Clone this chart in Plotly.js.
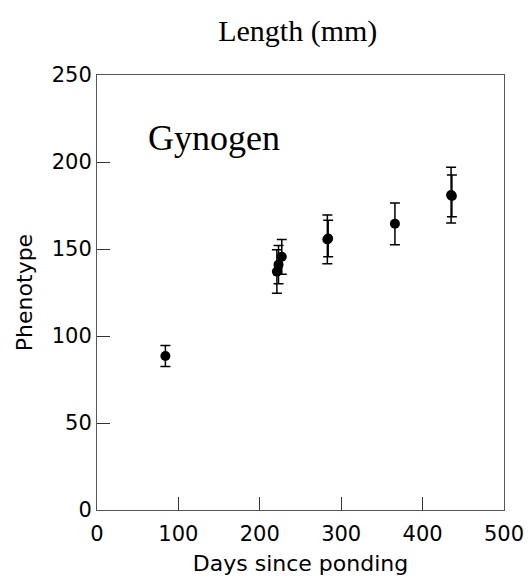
<!DOCTYPE html>
<html>
<head>
<meta charset="utf-8">
<script src="https://cdn.plot.ly/plotly-3.0.1.min.js"></script>
<style>html,body{margin:0;padding:0;background:#fff;}</style>
</head>
<body>
<div id="chart" style="width:528px;height:579px;"></div>
<script>
const days = [84, 221, 223, 227, 283, 284, 366, 435, 436];
const phenotype = [88.5, 137, 141, 145.5, 155.5, 156, 164.5, 181, 180.5];
const errors = [6, 12.5, 11, 10, 14, 10.5, 12, 16, 12];
const xTicks = [0, 100, 200, 300, 400, 500];
const yTicks = [0, 50, 100, 150, 200, 250];
const chartTitle = 'Length (mm)';
const groupLabel = 'Gynogen';

const trace = {
  x: days, y: phenotype, type: 'scatter', mode: 'markers',
  marker: {color: 'black', size: 10},
  error_y: {type: 'data', array: errors, visible: true, color: 'black', thickness: 1.5, width: 5},
  showlegend: false, hoverinfo: 'x+y'
};

const axisCommon = {
  showgrid: false, zeroline: false, showline: true, linecolor: '#555', linewidth: 1,
  mirror: true, ticks: 'inside', ticklen: 13, tickcolor: '#333', tickwidth: 1,
  tickfont: {family: 'DejaVu Sans', size: 21, color: 'black'}
};

const layout = {
  width: 528, height: 579,
  margin: {l: 97, r: 24, t: 75, b: 69},
  paper_bgcolor: 'white', plot_bgcolor: 'white',
  title: {text: chartTitle, font: {family: 'Liberation Serif', size: 30, color: 'black'},
          x: 0.564, xref: 'container', xanchor: 'center', y: 0.948, yref: 'container', yanchor: 'middle'},
  xaxis: Object.assign({}, axisCommon, {
    range: [0, 500], tickvals: xTicks, ticktext: xTicks.map(String), ticklabelstandoff: 5,
    title: {text: 'Days since ponding', font: {family: 'DejaVu Sans', size: 22, color: 'black'}, standoff: 10}
  }),
  yaxis: Object.assign({}, axisCommon, {
    range: [0, 250], tickvals: yTicks, ticktext: yTicks.map(String),
    title: {text: 'Phenotype', font: {family: 'DejaVu Sans', size: 22, color: 'black'}, standoff: 13}
  }),
  annotations: [{
    text: groupLabel, xref: 'x', yref: 'y', x: 60, y: 214, xanchor: 'left', yanchor: 'middle',
    showarrow: false, font: {family: 'Liberation Serif', size: 36, color: 'black'}
  }]
};

Plotly.newPlot('chart', [trace], layout, {displayModeBar: false, staticPlot: true});
</script>
</body>
</html>
